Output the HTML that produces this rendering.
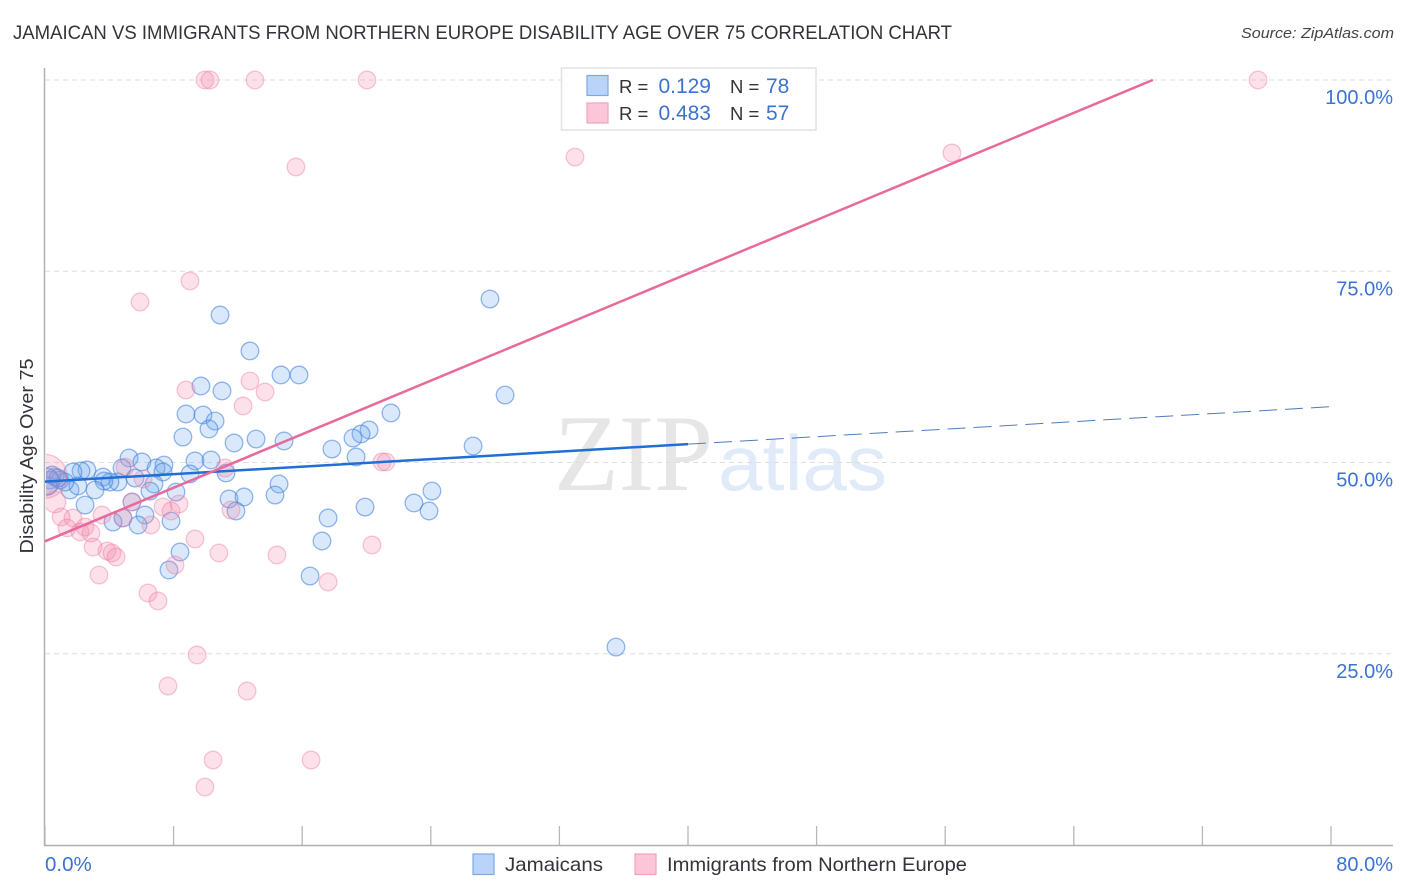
<!DOCTYPE html>
<html lang="en">
<head>
<meta charset="utf-8">
<title>Jamaican vs Immigrants from Northern Europe Disability Age Over 75 Correlation Chart</title>
<style>
html,body{margin:0;padding:0;background:#fff;}
svg{display:block;font-family:"Liberation Sans",sans-serif;}
</style>
</head>
<body>
<svg id="chart" width="1406" height="892" viewBox="0 0 1406 892" xmlns="http://www.w3.org/2000/svg">
  <defs>
    <clipPath id="plot-clip"><rect x="46" y="60" width="1350" height="785"/></clipPath>
  </defs>
  <text x="13" y="39" font-size="19.5" fill="#33333b" textLength="939" lengthAdjust="spacingAndGlyphs">JAMAICAN VS IMMIGRANTS FROM NORTHERN EUROPE DISABILITY AGE OVER 75 CORRELATION CHART</text>
  <text x="1394" y="38" font-size="15" font-style="italic" fill="#444" text-anchor="end" textLength="153" lengthAdjust="spacingAndGlyphs">Source: ZipAtlas.com</text>

  <g>
    <text x="554" y="490" font-family="'Liberation Serif',serif" font-size="109" fill="#e6e6e6" textLength="159" lengthAdjust="spacingAndGlyphs">ZIP</text>
    <text x="718" y="490" font-size="78" fill="#e0eaf9" textLength="169" lengthAdjust="spacingAndGlyphs">atlas</text>
  </g>

  <g id="grid"></g>
  <g id="axes"></g>
  <g id="points" clip-path="url(#plot-clip)"></g>
  <g id="trends"></g>
  <g id="labels"></g>

  <text transform="translate(33,456) rotate(-90)" font-size="18" fill="#33333b" text-anchor="middle" textLength="195" lengthAdjust="spacingAndGlyphs">Disability Age Over 75</text>

  <g>
    <rect x="561.5" y="68" width="254.5" height="62" fill="#fff" fill-opacity="0.9" stroke="#e2e2e2" stroke-width="1.5"/>
    <rect x="587" y="75.5" width="21" height="20" fill="#b9d4f8" stroke="#7fa8e0" stroke-width="1.2"/>
    <rect x="587" y="103" width="21" height="20" fill="#fcc6d8" stroke="#f0a2bd" stroke-width="1.2"/>
    <text x="619" y="93" font-size="18.5" fill="#33333b">R =</text>
    <text x="711" y="93" font-size="21" fill="#3b73d0" text-anchor="end">0.129</text>
    <text x="730" y="93" font-size="18.5" fill="#33333b">N =</text>
    <text x="766" y="93" font-size="21" fill="#3b73d0">78</text>
    <text x="619" y="120" font-size="18.5" fill="#33333b">R =</text>
    <text x="711" y="120" font-size="21" fill="#3b73d0" text-anchor="end">0.483</text>
    <text x="730" y="120" font-size="18.5" fill="#33333b">N =</text>
    <text x="766" y="120" font-size="21" fill="#3b73d0">57</text>
  </g>

  <g>
    <rect x="473" y="854" width="21" height="20.5" fill="#b9d4f8" stroke="#7fa8e0" stroke-width="1.2"/>
    <text x="505" y="871" font-size="19.5" fill="#33333b" textLength="98" lengthAdjust="spacingAndGlyphs">Jamaicans</text>
    <rect x="635" y="854" width="21" height="20.5" fill="#fcc6d8" stroke="#f0a2bd" stroke-width="1.2"/>
    <text x="667" y="871" font-size="19.5" fill="#33333b" textLength="300" lengthAdjust="spacingAndGlyphs">Immigrants from Northern Europe</text>
  </g>
</svg>
<script>
const xMinorTicks = [0,1,2,3,4,5,6,7,8,9,10];
const xEdgeLabels = ['0.0%','80.0%'];
const yTickValues = [25,50,75,100];
const yTickLabels = ['25.0%','50.0%','75.0%','100.0%'];

const jamaicanX = [10.89,12.75,14.68,15.80,9.70,11.01,8.77,9.83,10.58,10.20,8.58,11.76,13.13,14.87,17.85,5.23,6.03,9.33,10.33,7.40,6.91,7.34,9.02,11.26,2.61,2.24,1.74,3.61,5.60,4.79,4.54,4.04,3.67,3.11,1.56,2.05,6.78,6.53,8.15,11.45,12.38,14.56,14.31,11.88,5.41,6.22,2.49,4.85,4.23,5.79,7.84,17.61,17.23,8.40,7.71,16.49,27.68,28.62,21.52,20.16,19.66,19.16,26.63,19.35,24.07,22.95,23.89,19.91,35.52,0.31,0.62,0.93,1.24,0.19,0.44,0.81,0.05];
const jamaicanY = [69.28,64.58,61.44,61.44,60.00,59.35,56.34,56.21,55.42,54.38,53.33,52.55,53.07,52.81,51.76,50.59,50.07,50.20,50.33,49.67,49.28,48.76,48.50,48.63,49.02,48.89,48.76,48.10,47.97,49.28,47.45,47.45,47.58,46.41,46.41,46.93,47.19,46.27,46.14,45.23,45.49,47.19,45.75,43.66,44.84,43.14,44.44,42.75,42.22,41.83,42.35,42.75,39.74,38.30,35.95,35.16,71.37,58.82,56.47,54.25,53.73,53.20,52.16,50.72,46.27,44.71,43.66,44.18,25.88,47.71,48.10,47.71,47.45,46.93,48.37,47.97,47.50];
const jamaicanHeavyIndex = [76];
const jamaicanHeavyWeight = [2.4];

const europeX = [9.95,10.26,13.06,20.03,75.46,32.97,15.61,56.42,9.02,5.91,8.77,12.75,13.69,12.32,20.96,21.21,11.20,4.98,6.10,5.41,7.34,7.84,8.34,11.57,3.55,1.74,1.00,1.37,2.18,2.49,2.86,2.99,3.86,4.17,4.42,3.36,6.59,4.85,8.09,9.33,10.82,14.43,17.61,6.41,7.03,20.34,9.46,7.65,12.57,10.45,16.55,9.95,0,0.62];
const europeY = [100,100,100,100,100,89.93,88.63,90.46,73.73,70.98,59.48,60.65,59.22,57.39,50.07,50.07,49.28,49.41,47.84,44.84,44.18,43.66,44.58,43.79,43.14,42.75,42.88,41.44,40.92,41.57,40.78,38.95,38.43,38.17,37.65,35.29,41.83,42.75,36.60,40.00,38.17,37.91,34.38,32.94,31.90,39.22,24.84,20.78,20.13,11.11,11.11,7.58,48.20,44.84];
const europeHeavyIndex = [52,53];
const europeHeavyWeight = [6.2,1.5];

const jamaicanTrendStart = 47.5;
const jamaicanTrendEnd = 57.3;
const jamaicanTrendSolidUntil = 40;
const europeTrendStart = 39.7;
const europeTrendSlope = 0.875;

const NS = 'http://www.w3.org/2000/svg';
function xScale(v){ return 45 + v * 16.075; }
function yScale(v){ return 845 - v * 7.65; }
function make(tag, attrs, parent){
  const el = document.createElementNS(NS, tag);
  for (const k in attrs) el.setAttribute(k, attrs[k]);
  parent.appendChild(el);
  return el;
}

const grid = document.getElementById('grid');
const axes = document.getElementById('axes');
const labels = document.getElementById('labels');
const pointsLayer = document.getElementById('points');
const trends = document.getElementById('trends');

yTickValues.forEach(function(v, i){
  const line = make('line', {x1:45, x2:1393, y1:yScale(v), y2:yScale(v), stroke:'#dedede', 'stroke-width':1, 'stroke-dasharray':'5 4'}, grid);
  
  
  const t = make('text', {x:1393, y:yScale(v)+24, 'font-size':20, fill:'#3b73d0', 'text-anchor':'end'}, labels);
  
  
  t.textContent = yTickLabels[i];
});

const yAxis = make('line', {x1:44.5, x2:44.5, y1:68, y2:846, stroke:'#b0b0b0', 'stroke-width':1.5}, axes);


const xAxis = make('line', {x1:44, x2:1393, y1:845.5, y2:845.5, stroke:'#b0b0b0', 'stroke-width':1.5}, axes);


xMinorTicks.forEach(function(i){
  const px = xScale(i * 8);
  const tick = make('line', {x1:px, x2:px, y1:826, y2:845, stroke:'#b8b8b8', 'stroke-width':1.3}, axes);
  
  
});

const xLabelLeft = make('text', {x:xScale(0), y:871, 'font-size':20.5, fill:'#3b73d0'}, labels);


xLabelLeft.textContent = xEdgeLabels[0];
const xLabelRight = make('text', {x:1393, y:871, 'font-size':20, fill:'#3b73d0', 'text-anchor':'end'}, labels);


xLabelRight.textContent = xEdgeLabels[1];

function radiusFor(i, heavyIndex, heavyWeight){
  const at = heavyIndex.indexOf(i);
  return 8.8 * (at >= 0 ? Math.sqrt(heavyWeight[at]) : 1);
}

jamaicanX.forEach(function(v, i){
  const c = make('circle', {cx:xScale(v), cy:yScale(jamaicanY[i]), r:radiusFor(i, jamaicanHeavyIndex, jamaicanHeavyWeight), fill:'rgba(110,165,235,0.26)', stroke:'rgba(60,125,220,0.55)', 'stroke-width':1.3}, pointsLayer);
  
  
});
europeX.forEach(function(v, i){
  const c = make('circle', {cx:xScale(v), cy:yScale(europeY[i]), r:radiusFor(i, europeHeavyIndex, europeHeavyWeight), fill:'rgba(245,135,170,0.25)', stroke:'rgba(235,125,160,0.42)', 'stroke-width':1.3}, pointsLayer);
  
  
});

function jamaicanTrend(x){ return jamaicanTrendStart + (jamaicanTrendEnd - jamaicanTrendStart) * x / 80; }
const jamaicanSolid = make('line', {x1:xScale(0), y1:yScale(jamaicanTrend(0)), x2:xScale(jamaicanTrendSolidUntil), y2:yScale(jamaicanTrend(jamaicanTrendSolidUntil)), stroke:'#1f6fd6', 'stroke-width':2.5}, trends);


const jamaicanDash = make('line', {x1:xScale(jamaicanTrendSolidUntil), y1:yScale(jamaicanTrend(jamaicanTrendSolidUntil)), x2:xScale(80), y2:yScale(jamaicanTrend(80)), stroke:'#4f7db8', 'stroke-width':1, 'stroke-dasharray':'18 8'}, trends);



const europeEndX = (100 - europeTrendStart) / europeTrendSlope;
const europeLine = make('line', {x1:xScale(0), y1:yScale(europeTrendStart), x2:xScale(europeEndX), y2:yScale(100), stroke:'#e8699b', 'stroke-width':2.5}, trends);


</script>
</body>
</html>
